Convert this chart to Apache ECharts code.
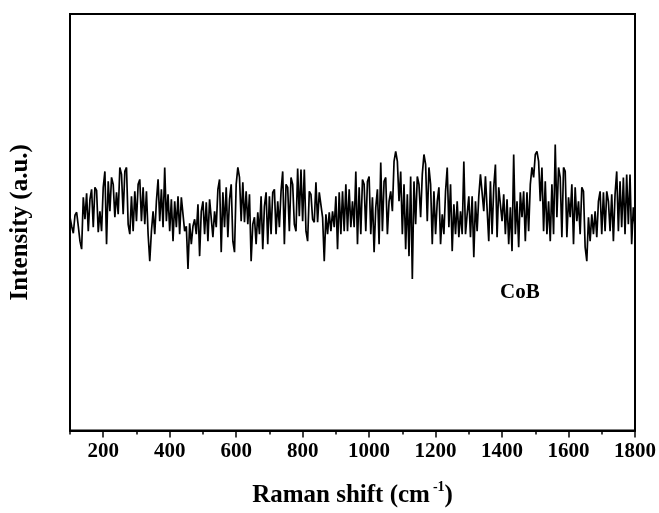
<!DOCTYPE html>
<html>
<head>
<meta charset="utf-8">
<script src="https://cdn.jsdelivr.net/npm/echarts@6/dist/echarts.min.js"></script>
<style>
  html, body { margin: 0; padding: 0; background: #fff; }
  #main { width: 659px; height: 513px; }
</style>
</head>
<body>
<div id="main"></div>
<script>
// Raman spectrum of CoB (5 cm-1 steps, a.u.)
var shiftStart = 100;
var shiftStep = 5;

// 100 - 435 cm-1
var band1 = [214, 205, 198, 216, 219, 205, 190, 182, 234, 212, 238, 200, 232, 242, 204, 244, 241, 199, 220, 200,
  244, 260, 187, 250, 220, 254, 247, 214, 239, 217, 264, 257, 217, 260, 264, 207, 197, 235, 200, 240,
  210, 247, 252, 210, 244, 207, 240, 197, 170, 200, 220, 197, 230, 252, 210, 242, 204, 264, 210, 237,
  200, 232, 190, 230, 204, 235, 197, 234];
// 440 - 775 cm-1
var band2 = [232, 200, 205, 162, 208, 187, 205, 212, 197, 227, 175, 220, 230, 197, 229, 190, 232, 234, 194, 220,
  204, 242, 252, 179, 239, 204, 244, 194, 232, 247, 190, 179, 247, 264, 254, 210, 249, 209, 240, 207,
  237, 170, 207, 214, 187, 219, 197, 235, 182, 225, 239, 187, 235, 197, 239, 242, 197, 230, 204, 240,
  260, 187, 247, 244, 200, 254, 247, 207];
// 780 - 1120 cm-1
var band3 = [200, 263, 215, 262, 210, 262, 200, 190, 240, 237, 212, 209, 249, 209, 239, 240, 214, 170, 217, 197,
  219, 200, 220, 204, 235, 182, 239, 197, 240, 200, 247, 200, 242, 204, 230, 204, 260, 187, 244, 197,
  252, 247, 200, 250, 255, 197, 234, 179, 224, 242, 187, 269, 200, 250, 254, 197, 230, 240, 220, 270,
  280, 270, 230, 260, 197, 247, 182, 237, 175];
// 1125 - 1460 cm-1
var band4 = [255, 152, 250, 207, 255, 247, 214, 257, 277, 267, 210, 264, 247, 187, 240, 197, 230, 244, 187, 217,
  197, 240, 264, 204, 247, 180, 227, 197, 230, 194, 220, 197, 270, 197, 217, 235, 194, 235, 174, 230,
  200, 235, 257, 255, 220, 255, 254, 190, 250, 197, 244, 267, 194, 244, 242, 210, 237, 197, 232, 187,
  224, 180, 277, 197, 230, 184, 239, 214];
// 1465 - 1800 cm-1
var band5 = [240, 190, 239, 200, 247, 264, 254, 277, 280, 270, 230, 264, 200, 250, 197, 230, 190, 247, 197, 287,
  214, 264, 254, 194, 264, 260, 194, 234, 214, 247, 187, 244, 210, 230, 197, 244, 240, 184, 170, 214,
  190, 217, 197, 220, 194, 230, 240, 197, 239, 200, 240, 230, 200, 237, 190, 237, 260, 200, 250, 204,
  254, 197, 257, 207, 257, 187, 224, 205];

var intensity = band1.concat(band2, band3, band4, band5);
var majorTicks = [200, 400, 600, 800, 1000, 1200, 1400, 1600, 1800];

var points = [];
for (var i = 0; i < intensity.length; i++) {
  points.push([shiftStart + i * shiftStep, intensity[i]]);
}

var serif = '"Liberation Serif", "Times New Roman", serif';
var chart = echarts.init(document.getElementById('main'), null, {renderer: 'canvas'});

var option = {
  animation: false,
  backgroundColor: '#fff',
  grid: {
    left: 70, right: 23, top: 14, bottom: 81,
    show: true, borderColor: '#000', borderWidth: 2
  },
  xAxis: [{
    type: 'value',
    min: 100, max: 1800, interval: 100,
    axisLine: {show: true, lineStyle: {color: '#000', width: 2}},
    axisTick: {show: true, length: 4, lineStyle: {color: '#000', width: 1.5}},
    splitLine: {show: false},
    axisLabel: {
      color: '#000', fontFamily: serif, fontWeight: 'bold', fontSize: 21, margin: 11,
      formatter: function (v) { return majorTicks.indexOf(v) >= 0 ? String(v) : ''; }
    },
    name: 'Raman shift (cm{sup|-1})',
    nameLocation: 'middle',
    nameGap: 50,
    nameTextStyle: {
      color: '#000', fontFamily: serif, fontWeight: 'bold', fontSize: 25,
      rich: {
        sup: {fontFamily: serif, fontWeight: 'bold', fontSize: 14, color: '#000', padding: [0, 0, 16, 3]}
      }
    }
  }, {
    type: 'value',
    min: 100, max: 1800,
    position: 'bottom',
    axisLine: {show: false},
    axisTick: {show: true, length: 7, customValues: majorTicks, lineStyle: {color: '#000', width: 1.5}},
    axisLabel: {show: false},
    splitLine: {show: false}
  }],
  yAxis: {
    type: 'value',
    min: 0, max: 418,
    axisLine: {show: true, lineStyle: {color: '#000', width: 2}},
    axisTick: {show: false},
    axisLabel: {show: false},
    splitLine: {show: false},
    name: 'Intensity (a.u.)',
    nameLocation: 'middle',
    nameRotate: 90,
    nameGap: 37,
    nameTextStyle: {color: '#000', fontFamily: serif, fontWeight: 'bold', fontSize: 25}
  },
  graphic: [{
    type: 'text',
    left: 500, top: 282,
    style: {text: 'CoB', font: 'bold 21px ' + serif, fill: '#000'}
  }],
  series: [{
    type: 'line',
    data: points,
    showSymbol: false,
    lineStyle: {color: '#000', width: 1.7}
  }]
};

chart.setOption(option);
</script>
</body>
</html>
